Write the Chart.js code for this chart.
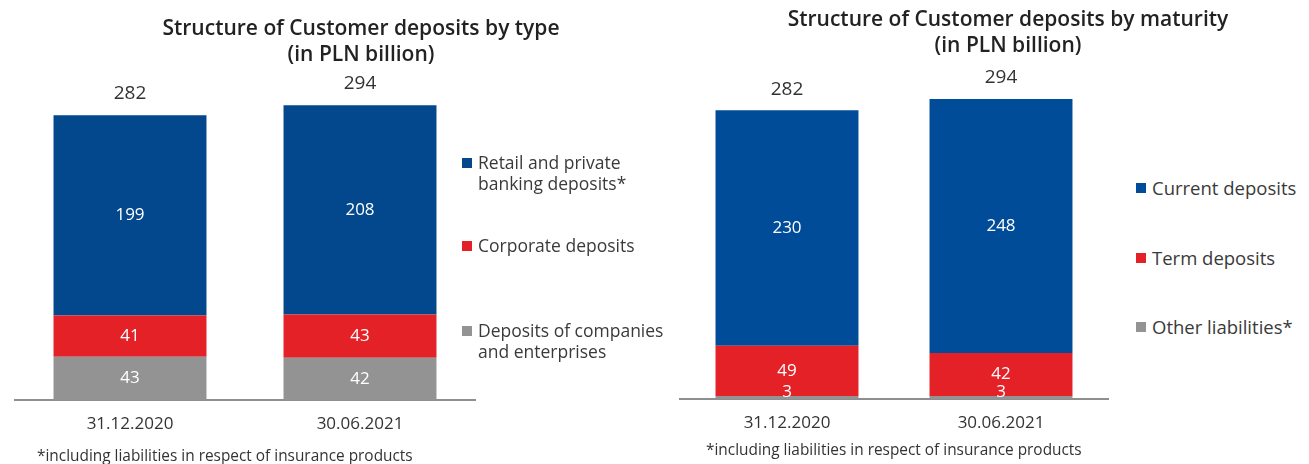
<!DOCTYPE html>
<html>
<head>
<meta charset="utf-8">
<script src="https://cdn.jsdelivr.net/npm/chart.js@4/dist/chart.umd.min.js"></script>
<style>
  html, body { margin: 0; padding: 0; background: #fff; }
  body { width: 1309px; height: 464px; position: relative; overflow: hidden; font-family: "Open Sans", sans-serif; color: #333; }
  .box { position: absolute; top: 0; height: 464px; }
  .title { position: absolute; text-align: center; font-size: 21px; font-weight: 600; line-height: 26px; color: #222; white-space: nowrap; }
  .legend { position: absolute; font-size: 17.5px; line-height: 21px; color: #3a3a3a; }
  .legend .item { position: absolute; white-space: nowrap; padding-left: 16px; }
  .legend .swatch { position: absolute; left: 0; width: 10px; height: 10px; }
  .note { position: absolute; font-size: 15.4px; color: #333; white-space: nowrap; }
</style>
</head>
<body>
<div class="box" id="typeBox" style="left:0;width:490px"><canvas id="typeChart"></canvas></div>
<div class="box" id="maturityBox" style="left:660px;width:460px"><canvas id="maturityChart"></canvas></div>

<div class="title" style="left:111px;width:500px;top:14px">Structure of Customer deposits by type<br>(in PLN billion)</div>
<div class="title" style="left:758px;width:500px;top:5px">Structure of Customer deposits by maturity<br>(in PLN billion)</div>

<div class="legend" id="typeLegend" style="left:462px;top:0"></div>
<div class="legend" id="maturityLegend" style="left:1136px;top:0;font-size:18.5px"></div>

<div class="note" style="left:37px;top:445px">*including liabilities in respect of insurance products</div>
<div class="note" style="left:706px;top:439px">*including liabilities in respect of insurance products</div>

<script>
// categories
const dates = ['31.12.2020', '30.06.2021'];

// deposits by type (PLN bn)
const typeNames = [['Retail and private', 'banking deposits*'], ['Corporate deposits'], ['Deposits of companies', 'and enterprises']];
const retailDeposits = [199, 208];
const corporateDeposits = [41, 43];
const companyDeposits = [43, 42];
const typeTotals = [282, 294];

// deposits by maturity (PLN bn)
const maturityNames = [['Current deposits'], ['Term deposits'], ['Other liabilities*']];
const currentDeposits = [230, 248];
const termDeposits = [49, 42];
const otherLiabilities = [3, 3];
const maturityTotals = [282, 294];

const BLUE_L = '#03478c';
const BLUE_R = '#004c99';
const RED = '#e32127';
const GRAY = '#939393';

// segment values inside the bars + totals above the stack
const valueLabels = {
    id: 'valueLabels',
    afterDatasetsDraw(chart, args, opts) {
        const ctx = chart.ctx;
        ctx.save();
        ctx.textAlign = 'center';
        ctx.textBaseline = 'middle';
        ctx.font = '17px "Open Sans"';
        ctx.fillStyle = '#ffffff';
        chart.data.datasets.forEach((ds, i) => {
            const meta = chart.getDatasetMeta(i);
            meta.data.forEach((bar, j) => {
                const mid = (bar.y + bar.base) / 2;
                // small segments: lift the number so it stays readable
                const y = Math.min(mid, bar.base - 7);
                ctx.fillText(String(ds.data[j]), bar.x, y);
            });
        });
        const top = chart.getDatasetMeta(chart.data.datasets.length - 1);
        ctx.font = '19px "Open Sans"';
        ctx.fillStyle = '#333333';
        top.data.forEach((bar, j) => {
            ctx.fillText(String(opts.totals[j]), bar.x, bar.y - opts.gap);
        });
        ctx.restore();
    }
};

function makeChart(id, datasets, totals, yMax, padding, barPct, gap) {
    return new Chart(document.getElementById(id), {
        type: 'bar',
        data: { labels: dates, datasets: datasets },
        plugins: [valueLabels],
        options: {
            responsive: true,
            maintainAspectRatio: false,
            animation: false,
            layout: { padding: padding },
            datasets: { bar: { categoryPercentage: 1, barPercentage: barPct } },
            plugins: {
                legend: { display: false },
                tooltip: { enabled: false },
                valueLabels: { totals: totals, gap: gap }
            },
            scales: {
                x: {
                    stacked: true,
                    grid: { display: false, drawTicks: false },
                    border: { display: true, color: '#8f8f8f', width: 2 },
                    ticks: { color: '#333', font: { family: 'Open Sans', size: 17 }, padding: 14 },
                    afterFit(scale) { scale.height = 34; }
                },
                y: { stacked: true, display: false, min: 0, max: yMax }
            }
        }
    });
}

makeChart('typeChart', [
    { label: typeNames[2].join(' '), data: companyDeposits, backgroundColor: GRAY },
    { label: typeNames[1].join(' '), data: corporateDeposits, backgroundColor: RED },
    { label: typeNames[0].join(' '), data: retailDeposits, backgroundColor: BLUE_L }
], typeTotals, 338, { left: 15, right: 15, top: 60, bottom: 30 }, 0.665, 22);

makeChart('maturityChart', [
    { label: maturityNames[2].join(' '), data: otherLiabilities, backgroundColor: GRAY },
    { label: maturityNames[1].join(' '), data: termDeposits, backgroundColor: RED },
    { label: maturityNames[0].join(' '), data: currentDeposits, backgroundColor: BLUE_R }
], maturityTotals, 331, { left: 20, right: 12, top: 60, bottom: 31 }, 0.668, 21);

// legends: first text line centred on the given y
function buildLegend(id, names, colors, ys) {
    const el = document.getElementById(id);
    names.forEach((lines, i) => {
        const item = document.createElement('div');
        item.className = 'item';
        item.style.top = (ys[i] - 10.5) + 'px';
        item.innerHTML = '<span class="swatch" style="background:' + colors[i] + ';top:6px"></span>' + lines.join('<br>');
        el.appendChild(item);
    });
}
buildLegend('typeLegend', typeNames, [BLUE_L, RED, GRAY], [162, 245, 330]);
buildLegend('maturityLegend', maturityNames, [BLUE_R, RED, GRAY], [187, 257, 326]);
</script>
</body>
</html>
